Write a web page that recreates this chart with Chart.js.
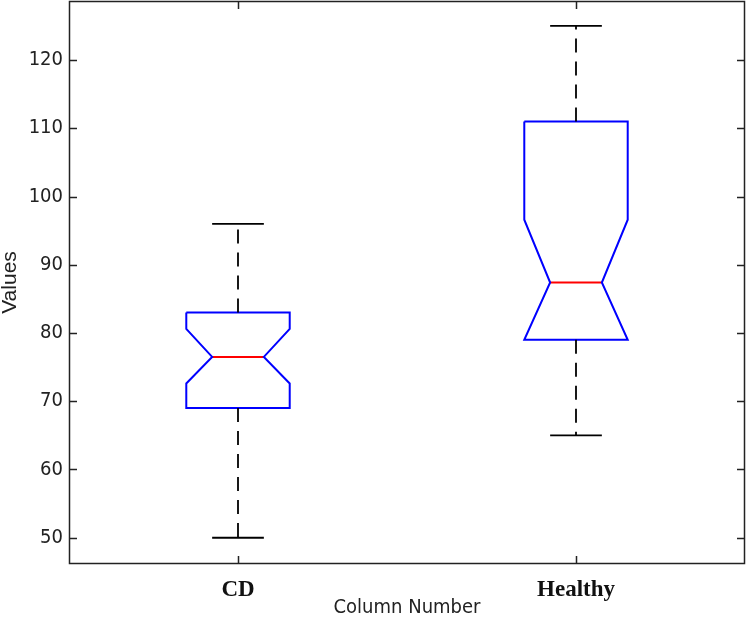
<!DOCTYPE html>
<html>
<head>
<meta charset="utf-8">
<script src="https://cdn.jsdelivr.net/npm/chart.js@4"></script>
<style>
  html, body { margin: 0; padding: 0; background: #fff; }
  canvas { display: block; }
</style>
</head>
<body>
<canvas id="chart" width="746" height="618"></canvas>
<script>
const categories = ["CD", "Healthy"]
const lowerWhisker = [50, 65]
const q1 = [69, 79]
const notchLow = [72.6, 79]
const median = [76.5, 87.4]
const notchHigh = [80.6, 96.6]
const q3 = [83, 111]
const upperWhisker = [96, 125]
const yTicks = [50, 60, 70, 80, 90, 100, 110, 120]

const HW = 0.153      // box half width, x units
const TICK = 8
const NARROW = "'Liberation Sans Narrow', 'Arial Narrow', 'DejaVu Sans Condensed', sans-serif"

const line = (data, color, extra = {}) => ({
  data, borderColor: color, borderWidth: 1.8, showLine: true,
  pointRadius: 0, fill: false, tension: 0, ...extra
})

const datasets = []
categories.forEach((c, i) => {
  const x = i + 1
  datasets.push(line([{ x, y: q3[i] }, { x, y: upperWhisker[i] }], "#000", { borderDash: [14, 9] }))
  datasets.push(line([{ x, y: q1[i] }, { x, y: lowerWhisker[i] }], "#000", { borderDash: [14, 9] }))
  datasets.push(line([{ x: x - HW / 2, y: upperWhisker[i] }, { x: x + HW / 2, y: upperWhisker[i] }], "#000"))
  datasets.push(line([{ x: x - HW / 2, y: lowerWhisker[i] }, { x: x + HW / 2, y: lowerWhisker[i] }], "#000"))
  datasets.push(line([
    { x: x - HW, y: q3[i] }, { x: x + HW, y: q3[i] }, { x: x + HW, y: notchHigh[i] },
    { x: x + HW / 2, y: median[i] }, { x: x + HW, y: notchLow[i] }, { x: x + HW, y: q1[i] },
    { x: x - HW, y: q1[i] }, { x: x - HW, y: notchLow[i] }, { x: x - HW / 2, y: median[i] },
    { x: x - HW, y: notchHigh[i] }, { x: x - HW, y: q3[i] }
  ], "#0000ff", { borderWidth: 2 }))
  datasets.push(line([{ x: x - HW / 2, y: median[i] }, { x: x + HW / 2, y: median[i] }], "#ff0000", { borderWidth: 2 }))
})

// frame with inward ticks on all four sides, like the original plot
const frame = {
  id: "frame",
  afterDraw(chart) {
    const { ctx, chartArea: a, scales } = chart
    ctx.save()
    ctx.strokeStyle = "#222"
    ctx.lineWidth = 1.5
    ctx.strokeRect(Math.round(a.left) + 0.5, Math.round(a.top) + 0.5,
      Math.round(a.right - a.left) - 1, Math.round(a.bottom - a.top) - 1)
    ctx.beginPath()
    yTicks.forEach(v => {
      const y = Math.round(scales.y.getPixelForValue(v)) + 0.5
      ctx.moveTo(a.left, y); ctx.lineTo(a.left + TICK, y)
      ctx.moveTo(a.right, y); ctx.lineTo(a.right - TICK, y)
    })
    categories.forEach((c, i) => {
      const x = Math.round(scales.x.getPixelForValue(i + 1)) + 0.5
      ctx.moveTo(x, a.bottom); ctx.lineTo(x, a.bottom - TICK)
      ctx.moveTo(x, a.top); ctx.lineTo(x, a.top + TICK)
    })
    ctx.stroke()
    ctx.restore()
  }
}

new Chart(document.getElementById("chart"), {
  type: "scatter",
  data: { datasets },
  plugins: [frame],
  options: {
    responsive: false,
    animation: false,
    layout: { padding: { top: 1, right: 1, left: 0, bottom: 0 } },
    plugins: { legend: { display: false }, tooltip: { enabled: false } },
    scales: {
      x: {
        type: "linear", min: 0.5, max: 2.5,
        grid: { display: false, drawTicks: false }, border: { display: false },
        afterBuildTicks: s => { s.ticks = categories.map((c, i) => ({ value: i + 1 })) },
        afterFit: s => { s.height = 54; s.paddingLeft = 0; s.paddingRight = 0 },
        ticks: {
          callback: v => categories[v - 1], padding: 12, color: "#111",
          maxRotation: 0, font: { family: "'Liberation Serif', 'Times New Roman', serif", size: 23, weight: "bold" }
        },
        title: {
          display: true, text: "Column Number", color: "#222", padding: { top: 0, bottom: 0 },
          font: { family: NARROW, size: 20, lineHeight: 1 }
        }
      },
      y: {
        min: 46.15, max: 128.65,
        grid: { display: false, drawTicks: false }, border: { display: false },
        afterBuildTicks: s => { s.ticks = yTicks.map(v => ({ value: v })) },
        afterFit: s => { s.width = 69; s.paddingTop = 0; s.paddingBottom = 0 },
        ticks: {
          padding: 6, color: "#222",
          font: { family: NARROW, size: 20 }
        },
        title: {
          display: true, text: "Values", color: "#222", padding: { top: 0, bottom: 0 },
          font: { family: "'Liberation Sans', Arial, sans-serif", size: 21, lineHeight: 1 }
        }
      }
    }
  }
})
</script>
</body>
</html>
